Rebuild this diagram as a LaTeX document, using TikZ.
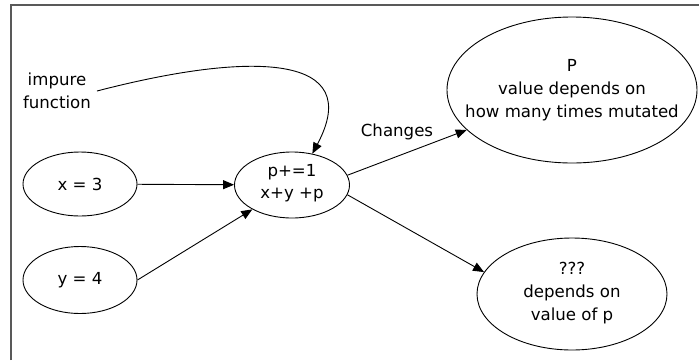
\documentclass[tikz,border=0pt]{standalone}
\usepackage{fontspec}
\setmainfont{DejaVu Sans}
\usetikzlibrary{shapes.geometric,arrows.meta}
\begin{document}
\begin{tikzpicture}[x=1pt,y=-1pt,
  ell/.style={draw=black,line width=0.9pt,ellipse,inner sep=0pt},
  txt/.style={align=center,inner sep=0pt,font=\fontsize{16.6}{23}\selectfont},
  arr/.style={draw=black,line width=0.9pt,-{Triangle[length=11pt,width=9pt]}},
  frame/.style={draw=black!65,line width=1.6pt}]
\useasboundingbox (0,0) rectangle (699,360);
\draw[frame] (11,360) -- (11,5) -- (699,5);
% ellipses
\node[ell,minimum width=114pt,minimum height=64pt] (x) at (80,184) {};
\node[txt] (xt) at (x) {x = 3};
\node[ell,minimum width=114pt,minimum height=67pt] (y) at (80,280) {};
\node[txt] (yt) at (y) {y = 4};
\node[ell,minimum width=115pt,minimum height=66pt] (c) at (292,185) {};
\node[txt,font=\fontsize{16.6}{21.5}\selectfont] (ct) at (292,183) {p+=1\\x+y +p};
\node[ell,minimum width=250pt,minimum height=146pt] (P) at (572,90) {};
\node[txt] (Pt) at (572,90) {P\\value depends on\\how many times mutated};
\node[ell,minimum width=190pt,minimum height=112pt] (Q) at (572,294) {};
\node[txt] (Qt) at (572,293) {???\\depends on\\value of p};
% labels
\node[txt] (imp) at (57,91) {impure\\function};
\node[txt] (chg) at (397,132) {Changes};
\coordinate (cs) at (97,91);
% connectors
\draw[arr] (x) -- (c);
\draw[arr] (y.east) -- (c);
\draw[arr] (c.10) -- (P);
\draw[arr] (c.-10) -- (Q.166);
\draw[arr] (cs) .. controls (255,50) and (365,55) .. (c.57);
\end{tikzpicture}
\end{document}
